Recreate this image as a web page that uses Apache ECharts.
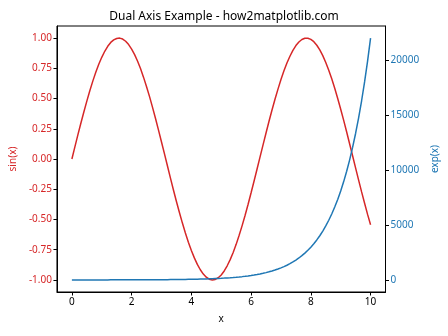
<!DOCTYPE html>
<html>
<head>
<meta charset="utf-8">
<script src="https://cdn.jsdelivr.net/npm/echarts@6/dist/echarts.min.js"></script>
<style>html,body{margin:0;padding:0;background:#fff}#c{width:448px;height:336px}</style>
</head>
<body>
<div id="c"></div>
<script>
const xValues = [0,0.1,0.2,0.3,0.4,0.5,0.6,0.7,0.8,0.9,1,1.1,1.2,1.3,1.4,1.5,1.6,1.7,1.8,1.9,2,2.1,2.2,2.3,2.4,2.5,2.6,2.7,2.8,2.9,3,3.1,3.2,3.3,3.4,3.5,3.6,3.7,3.8,3.9,4,4.1,4.2,4.3,4.4,4.5,4.6,4.7,4.8,4.9,5,5.1,5.2,5.3,5.4,5.5,5.6,5.7,5.8,5.9,6,6.1,6.2,6.3,6.4,6.5,6.6,6.7,6.8,6.9,7,7.1,7.2,7.3,7.4,7.5,7.6,7.7,7.8,7.9,8,8.1,8.2,8.3,8.4,8.5,8.6,8.7,8.8,8.9,9,9.1,9.2,9.3,9.4,9.5,9.6,9.7,9.8,9.9,10];
const sinValues = [0.000,0.100,0.199,0.296,0.389,0.479,0.565,0.644,0.717,0.783,0.841,0.891,0.932,0.964,0.985,0.997,1.000,0.992,0.974,0.946,0.909,0.863,0.808,0.746,0.675,0.598,0.516,0.427,0.335,0.239,0.141,0.042,-0.058,-0.158,-0.256,-0.351,-0.443,-0.530,-0.612,-0.688,-0.757,-0.818,-0.872,-0.916,-0.952,-0.978,-0.994,-1.000,-0.996,-0.982,-0.959,-0.926,-0.883,-0.832,-0.773,-0.706,-0.631,-0.551,-0.465,-0.374,-0.279,-0.182,-0.083,0.017,0.117,0.215,0.312,0.405,0.494,0.578,0.657,0.729,0.794,0.850,0.899,0.938,0.968,0.988,0.999,0.999,0.989,0.970,0.941,0.902,0.855,0.798,0.734,0.663,0.585,0.501,0.412,0.319,0.223,0.124,0.025,-0.075,-0.175,-0.272,-0.366,-0.458,-0.544];
const expValues = [1.00,1.11,1.22,1.35,1.49,1.65,1.82,2.01,2.23,2.46,2.72,3.00,3.32,3.67,4.06,4.48,4.95,5.47,6.05,6.69,7.39,8.17,9.03,9.97,11.0,12.2,13.5,14.9,16.4,18.2,20.1,22.2,24.5,27.1,30.0,33.1,36.6,40.4,44.7,49.4,54.6,60.3,66.7,73.7,81.5,90.0,99.5,110,122,134,148,164,181,200,221,245,270,299,330,365,403,446,493,545,602,665,735,812,898,992,1097,1212,1339,1480,1636,1808,1998,2208,2441,2697,2981,3294,3641,4024,4447,4915,5432,6003,6634,7332,8103,8955,9897,10938,12088,13360,14765,16318,18034,19930,22026];
const xTicks = [0,2,4,6,8,10];
const leftTicks = [-1,-0.75,-0.5,-0.25,0,0.25,0.5,0.75,1];
const rightTicks = [0,5000,10000,15000,20000];

const RED = '#d62728', BLUE = '#1f77b4';
const FONT = 'Noto Sans';
const chart = echarts.init(document.getElementById('c'), null, {renderer:'canvas'});
chart.setOption({
  animation:false,
  backgroundColor:'#fff',
  title:{text:'Dual Axis Example - how2matplotlib.com', left:'center', top:6,
    textStyle:{fontFamily:FONT, fontSize:12, fontWeight:'normal', color:'#000'}},
  grid:{left:56, right:60.5, top:26, bottom:44, show:true, borderColor:'#000', borderWidth:1, backgroundColor:'transparent'},
  xAxis:{type:'value', min:-0.5, max:10.5, name:'x', nameLocation:'middle', nameGap:22,
    nameTextStyle:{fontFamily:FONT, fontSize:10, color:'#000'},
    axisLine:{show:true, onZero:false, lineStyle:{color:'#000', width:1}},
    axisTick:{show:true, length:3.5, customValues:xTicks, lineStyle:{color:'#000'}},
    axisLabel:{customValues:xTicks, fontFamily:FONT, fontSize:10, color:'#000', margin:5},
    splitLine:{show:false}},
  yAxis:[
    {type:'value', position:'left', min:-1.1, max:1.1, name:'sin(x)', nameLocation:'middle', nameGap:34, nameRotate:90,
     nameTextStyle:{fontFamily:FONT, fontSize:10, color:RED},
     axisLine:{show:true, onZero:false, lineStyle:{color:'#000'}},
     axisTick:{show:true, length:3.5, customValues:leftTicks, lineStyle:{color:'#000'}},
     axisLabel:{customValues:leftTicks, fontFamily:FONT, fontSize:10, color:RED, margin:5, hideOverlap:false,
       formatter:function(v){return Number(v).toFixed(2);}},
     splitLine:{show:false}},
    {type:'value', position:'right', min:-1101, max:23127, name:'exp(x)', nameLocation:'middle', nameGap:40, nameRotate:90,
     nameTextStyle:{fontFamily:FONT, fontSize:10, color:BLUE},
     axisLine:{show:true, onZero:false, lineStyle:{color:'#000'}},
     axisTick:{show:true, length:3.5, customValues:rightTicks, lineStyle:{color:'#000'}},
     axisLabel:{customValues:rightTicks, fontFamily:FONT, fontSize:10, color:BLUE, margin:5,
       formatter:function(v){return String(Math.round(v));}},
     splitLine:{show:false}}
  ],
  series:[
    {type:'line', yAxisIndex:0, data:xValues.map((x,i)=>[x,sinValues[i]]), showSymbol:false, smooth:false,
     lineStyle:{color:RED, width:1.5}, itemStyle:{color:RED}},
    {type:'line', yAxisIndex:1, data:xValues.map((x,i)=>[x,expValues[i]]), showSymbol:false, smooth:false,
     lineStyle:{color:BLUE, width:1.5}, itemStyle:{color:BLUE}}
  ]
});
</script>
</body>
</html>
